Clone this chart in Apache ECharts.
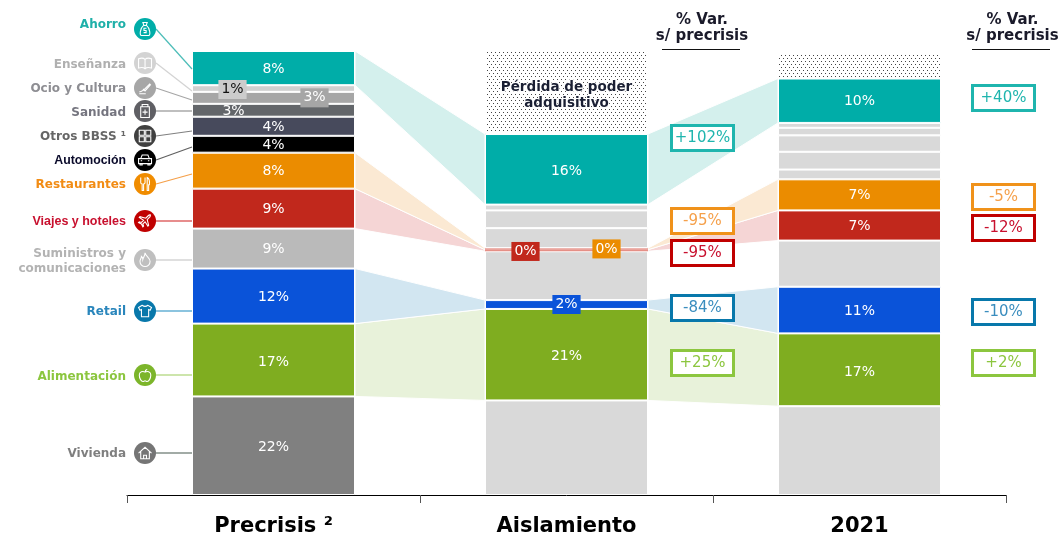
<!DOCTYPE html>
<html>
<head>
<meta charset="utf-8">
<title>Gasto por categoría</title>
<style>
  html, body { margin: 0; padding: 0; background: #fff; }
  #chart { width: 1061px; height: 533px; }
</style>
<script src="https://cdn.jsdelivr.net/npm/echarts@6/dist/echarts.min.js"></script>
</head>
<body>
<div id="chart"></div>
<script>
// periods on the x axis
const categories = ['Precrisis ²', 'Aislamiento', '2021'];

// share of spend per period (bottom of the stack first)
const vivienda = [22.2, 21.3, 20.0];
const alimentacion = [16.4, 20.6, 16.4];
const retail = [12.4, 2.0, 10.5];
const suministros = [9.0, 11.0, 10.4];
const viajes = [9.0, 0.35, 6.8];
const restaurantes = [8.1, 0.35, 7.0];
const automocion = [3.8, 4.5, 2.2];
const otrosBbss = [4.3, 4.0, 4.0];
const sanidad = [2.9, 0, 3.7];
const ocio = [2.7, 0, 1.7];
const ensenanza = [1.5, 1.3, 1.1];
const ahorro = [7.7, 15.9, 10.0];
const perdida = [0, 18.8, 5.6];

// printed labels on the bars
const viviendaLabels = ['22%', '', ''];
const alimentacionLabels = ['17%', '21%', '17%'];
const retailLabels = ['12%', '2%', '11%'];
const suministrosLabels = ['9%', '', ''];
const viajesLabels = ['9%', '0%', '7%'];
const restaurantesLabels = ['8%', '0%', '7%'];
const automocionLabels = ['4%', '', ''];
const otrosLabels = ['4%', '', ''];
const sanidadLabels = ['3%', '', ''];
const ocioLabels = ['3%', '', ''];
const ensenanzaLabels = ['1%', '', ''];
const ahorroLabels = ['8%', '16%', '10%'];
const perdidaLabels = ['', 'Pérdida de poder\nadquisitivo', ''];

// % var. boxes
const varAislamiento = ['+102%', '-95%', '-95%', '-84%', '+25%'];
const var2021 = ['+40%', '-5%', '-12%', '-10%', '+2%'];
const legendNames = ['Ahorro', 'Enseñanza', 'Ocio y Cultura', 'Sanidad', 'Otros BBSS ¹', 'Automoción',
  'Restaurantes', 'Viajes y hoteles', 'Suministros y\ncomunicaciones', 'Retail', 'Alimentación', 'Vivienda'];

const FONT = '"DejaVu Sans", Verdana, sans-serif';
const ARIAL = '"Liberation Sans", Arial, sans-serif';
const BAR_W = 163;
const GREY = '#d9d9d9';
const THIN_LINE = '#e58f86';

// dotted fill for the "perdida" block
function dotPattern() {
  const c = document.createElement('canvas');
  c.width = 8; c.height = 6;
  const g = c.getContext('2d');
  g.fillStyle = '#fff';
  g.fillRect(0, 0, 8, 6);
  g.fillStyle = '#444';
  g.fillRect(1, 1, 1, 1); g.fillRect(5, 1, 1, 1);
  g.fillRect(3, 4, 1, 1); g.fillRect(7, 4, 1, 1);
  return { image: c, repeat: 'repeat' };
}

function stackSeries(name, values, labels, colors, tweaks, noBorder) {
  return {
    name: name,
    type: 'bar',
    stack: 'total',
    barWidth: BAR_W,
    z: 3,
    data: values.map((v, i) => ({
      value: v,
      itemStyle: { color: colors[i], borderColor: '#fff', borderWidth: noBorder === i ? 0 : 1 },
      label: Object.assign({
        show: labels[i] !== '',
        formatter: labels[i],
        position: 'inside',
        color: '#fff',
        fontFamily: FONT,
        fontSize: 14,
        offset: [0, 1]
      }, (tweaks && tweaks[i]) || {})
    }))
  };
}

const boxed = (bg, color, dx, dy) => ({ backgroundColor: bg, color: color, padding: [3, 3, 2, 3], offset: [dx, dy] });

const stack = [
  stackSeries('Vivienda', vivienda, viviendaLabels, ['#808080', GREY, GREY], { 0: { offset: [0, 2] } }),
  stackSeries('Alimentación', alimentacion, alimentacionLabels, ['#7fad20', '#7fad20', '#7fad20'],
    { 0: { offset: [0, 2] }, 1: { offset: [0, 2] }, 2: { offset: [0, 3] } }),
  stackSeries('Retail', retail, retailLabels, ['#0a53d9', '#0a53d9', '#0a53d9'], { 1: boxed('#0a53d9', '#fff', 0, 0) }),
  stackSeries('Suministros', suministros, suministrosLabels, ['#bababa', GREY, GREY]),
  stackSeries('Viajes', viajes, viajesLabels, ['#c1281c', THIN_LINE, '#c1281c'], { 1: boxed('#c1281c', '#fff', -41, 1) }, 1),
  stackSeries('Restaurantes', restaurantes, restaurantesLabels, ['#eb8c00', THIN_LINE, '#eb8c00'], { 1: boxed('#eb8c00', '#fff', 40, 0) }, 1),
  stackSeries('Automoción', automocion, automocionLabels, ['#000000', GREY, GREY]),
  stackSeries('Otros BBSS', otrosBbss, otrosLabels, ['#474a5c', GREY, GREY]),
  stackSeries('Sanidad', sanidad, sanidadLabels, ['#63666a', GREY, GREY], { 0: { offset: [-40, 1] } }),
  stackSeries('Ocio y Cultura', ocio, ocioLabels, ['#a6a6a6', GREY, GREY], { 0: boxed('#a6a6a6', '#fff', 41, 0) }),
  stackSeries('Enseñanza', ensenanza, ensenanzaLabels, ['#d0d0d0', GREY, GREY], { 0: boxed('#cccccc', '#111', -41, 1) }),
  stackSeries('Ahorro', ahorro, ahorroLabels, ['#00ada8', '#00ada8', '#00ada8'], { 1: { offset: [0, 2] } }),
  stackSeries('Pérdida', perdida, perdidaLabels, ['#fff', dotPattern(), dotPattern()], {
    1: { color: '#1a1f33', fontSize: 13.5, fontWeight: 'bold', lineHeight: 16, textBorderColor: '#fff', textBorderWidth: 2, offset: [0, 3] }
  })
];

// light ribbons between the coloured blocks, taken from the same stacked values
const stackValues = [vivienda, alimentacion, retail, suministros, viajes, restaurantes, automocion,
  otrosBbss, sanidad, ocio, ensenanza, ahorro];
const ribbonFills = { 1: '#e8f2da', 2: '#d2e6f1', 4: '#f5d5d5', 5: '#fbe9d3', 11: '#d4f0ed' };

function stackEdge(row, col) {
  let sum = 0;
  for (let r = 0; r < row; r++) sum += stackValues[r][col];
  return sum;
}

const ribbonData = [];
Object.keys(ribbonFills).forEach(key => {
  const row = Number(key);
  for (let col = 0; col < categories.length - 1; col++) {
    ribbonData.push([col, stackEdge(row, col), stackEdge(row + 1, col),
      stackEdge(row, col + 1), stackEdge(row + 1, col + 1), row]);
  }
});

const ribbons = {
  type: 'custom',
  z: 1,
  silent: true,
  clip: false,
  data: ribbonData,
  renderItem: function (params, api) {
    const col = api.value(0);
    const half = BAR_W / 2;
    const a = api.coord([col, api.value(1)]);
    const b = api.coord([col, api.value(2)]);
    const c = api.coord([col + 1, api.value(4)]);
    const d = api.coord([col + 1, api.value(3)]);
    return {
      type: 'polygon',
      shape: { points: [[a[0] + half, a[1]], [b[0] + half, b[1]], [c[0] - half, c[1]], [d[0] - half, d[1]]] },
      style: { fill: ribbonFills[api.value(5)], stroke: '#fff', lineWidth: 1 }
    };
  }
};

// left legend: text, icon circle, leader line
const legendLook = [
  { y: 25, ly: 29, end: 69, text: '#1fb0a9', fill: '#00ada8', line: '#4cbdb8', icon: 'M9 3h6l-1.5 4h-3z M10 7C5 11 4 21 7 21h10c3 0 2-10-3-14z M14 11h-3.5v3h3v3h-3.5' },
  { y: 64.5, ly: 63, end: 91, text: '#b0b0b0', fill: '#d3d3d3', line: '#d3d3d3', icon: 'M3 6c3-1 7-1 9 1c2-2 6-2 9-1v13c-3-1-7-1-9 1c-2-2-6-2-9-1z M12 7v13' },
  { y: 89, ly: 88, end: 100, text: '#8e8e93', fill: '#a6a6a6', line: '#a6a6a6', icon: 'M4 17c3 1 4-2 6-2l9-9 M4 20h9 M9 13l3 3l8-9' },
  { y: 113, ly: 111, end: 111, text: '#75757f', fill: '#5f5f64', line: '#808080', icon: 'M8 3h8v3h-8z M6 6h12v15h-12z M12 10v7 M8.5 13.5h7' },
  { y: 137, ly: 136, end: 131, text: '#666666', fill: '#404040', line: '#808080', icon: 'M4 4h7v7h-7z M13 4h7v7h-7z M4 13h7v7h-7z M13 13h7v7h-7z' },
  { y: 161, ly: 160, end: 147, text: '#0a0a2a', fill: '#000000', line: '#606060', font: ARIAL, size: 12.3, icon: 'M6 10l2-5h8l2 5 M3 10h18v7h-18z M5 17v2h3v-2 M16 17v2h3v-2 M6 13h2 M16 13h2' },
  { y: 185, ly: 184, end: 174, text: '#f28c14', fill: '#f08c00', line: '#f5a04a', icon: 'M6 3v7q0 2 2 2v9h2v-9q2 0 2-2v-7 M15 3q4 2 3 10h-1v8h-2z' },
  { y: 222, ly: 221, end: 221, text: '#c8102e', fill: '#c00000', line: '#d01c1c', font: ARIAL, size: 12.5, icon: 'M20 4c-1-1-3 0-4 1l-3 3l-8-2l-1 1l6 4l-3 3l-3-1l-1 1l4 2l2 4l1-1l-1-3l3-3l4 6l1-1l-2-8l3-3c1-1 2-3 1-4z' },
  { y: 261, ly: 260, end: 260, text: '#b3b3b3', fill: '#bfbfbf', line: '#bfbfbf', icon: 'M12 2c1 5 7 7 7 12a7 7 0 0 1-14 0c0-3 2-5 2-7c1 1 2 2 2 4c1-3 3-5 3-9z' },
  { y: 312, ly: 311, end: 311, text: '#2a86bc', fill: '#0878ab', line: '#1a8ac0', icon: 'M8 4l-5 3l2 4l2-1v10h10v-10l2 1l2-4l-5-3q-4 3-8 0z' },
  { y: 377, ly: 375, end: 375, text: '#8cc63f', fill: '#7cb52a', line: '#9ccb5a', icon: 'M12 8c-3-2-8-1-8 4c0 5 3 9 5 9c1 0 2-1 3-1s2 1 3 1c2 0 5-4 5-9c0-5-5-6-8-4z M12 8q0-3 3-4' },
  { y: 454, ly: 453, end: 453, text: '#7f7f7f', fill: '#757575', line: '#46594f', icon: 'M3 12l9-8l9 8 M6 10v10h12v-10 M10 20v-5h4v5' }
];

const graphics = [];
legendNames.forEach((name, i) => {
  const l = legendLook[i];
  const iconType = 'legendIcon' + i;
  echarts.graphic.registerShape(iconType, echarts.graphic.extendPath(l.icon));
  graphics.push({ type: 'line', z: 4, silent: true, shape: { x1: 156, y1: l.ly, x2: 192, y2: l.end },
    style: { stroke: l.line, lineWidth: 1.2 } });
  graphics.push({ type: 'circle', z: 5, silent: true, shape: { cx: 145, cy: l.ly, r: 11 }, style: { fill: l.fill } });
  graphics.push({ type: iconType, z: 6, silent: true, x: 145 - 8.6, y: l.ly - 8.6, scaleX: 0.72, scaleY: 0.72,
    style: { fill: 'none', stroke: '#fff', lineWidth: 1.5 } });
  graphics.push({ type: 'text', z: 6, silent: true, x: 126, y: l.y,
    style: { text: name, align: 'right', verticalAlign: 'middle', fill: l.text, lineHeight: 15,
      fontFamily: l.font || FONT, fontSize: l.size || 12, fontWeight: 'bold' } });
});

// % var. columns
const boxColors = ['#1fb5ae', '#f0921a', '#c00000', '#0878ab', '#8cc63f'];
const textColors = ['#1fb5ae', '#f5a04a', '#c8102e', '#3a8dbe', '#8cc63f'];
const boxTop1 = [124, 207, 239, 294, 349];
const boxTop2 = [84, 183, 214, 298, 349];

function addVarColumn(labels, tops, left, headerX, ruleX) {
  graphics.push({ type: 'text', z: 6, silent: true, x: headerX, y: 28,
    style: { text: '% Var.\ns/ precrisis', align: 'center', verticalAlign: 'middle', fill: '#1a1a2a', lineHeight: 16,
      fontFamily: FONT, fontSize: 15, fontWeight: 'bold' } });
  graphics.push({ type: 'line', z: 6, silent: true, shape: { x1: ruleX, y1: 49.5, x2: ruleX + 78, y2: 49.5 },
    style: { stroke: '#111', lineWidth: 1 } });
  labels.forEach((t, i) => {
    graphics.push({ type: 'rect', z: 6, silent: true, shape: { x: left + 1.5, y: tops[i] + 1.5, width: 62, height: 25 },
      style: { fill: '#fff', stroke: boxColors[i], lineWidth: 3 } });
    graphics.push({ type: 'text', z: 7, silent: true, x: left + 32.5, y: tops[i] + 14.5,
      style: { text: t, align: 'center', verticalAlign: 'middle', fill: textColors[i],
        fontFamily: FONT, fontSize: 15 } });
  });
}
addVarColumn(varAislamiento, boxTop1, 670, 702, 662);
addVarColumn(var2021, boxTop2, 971, 1012.5, 972);

const chart = echarts.init(document.getElementById('chart'), null, { renderer: 'canvas' });
chart.setOption({
  animation: false,
  backgroundColor: '#fff',
  grid: { left: 127, right: 55, top: 51, bottom: 38, containLabel: false, outerBoundsMode: 'none' },
  xAxis: {
    type: 'category',
    data: categories,
    axisLine: { lineStyle: { color: '#000', width: 1 } },
    axisTick: { show: true, interval: 0, alignWithLabel: false, length: 8, lineStyle: { color: '#555' } },
    axisLabel: { color: '#000', fontFamily: FONT, fontSize: 21, fontWeight: 'bold', margin: 21 }
  },
  yAxis: { type: 'value', min: 0, max: 100, show: false },
  graphic: graphics,
  series: stack.concat([ribbons])
});
</script>
</body>
</html>
